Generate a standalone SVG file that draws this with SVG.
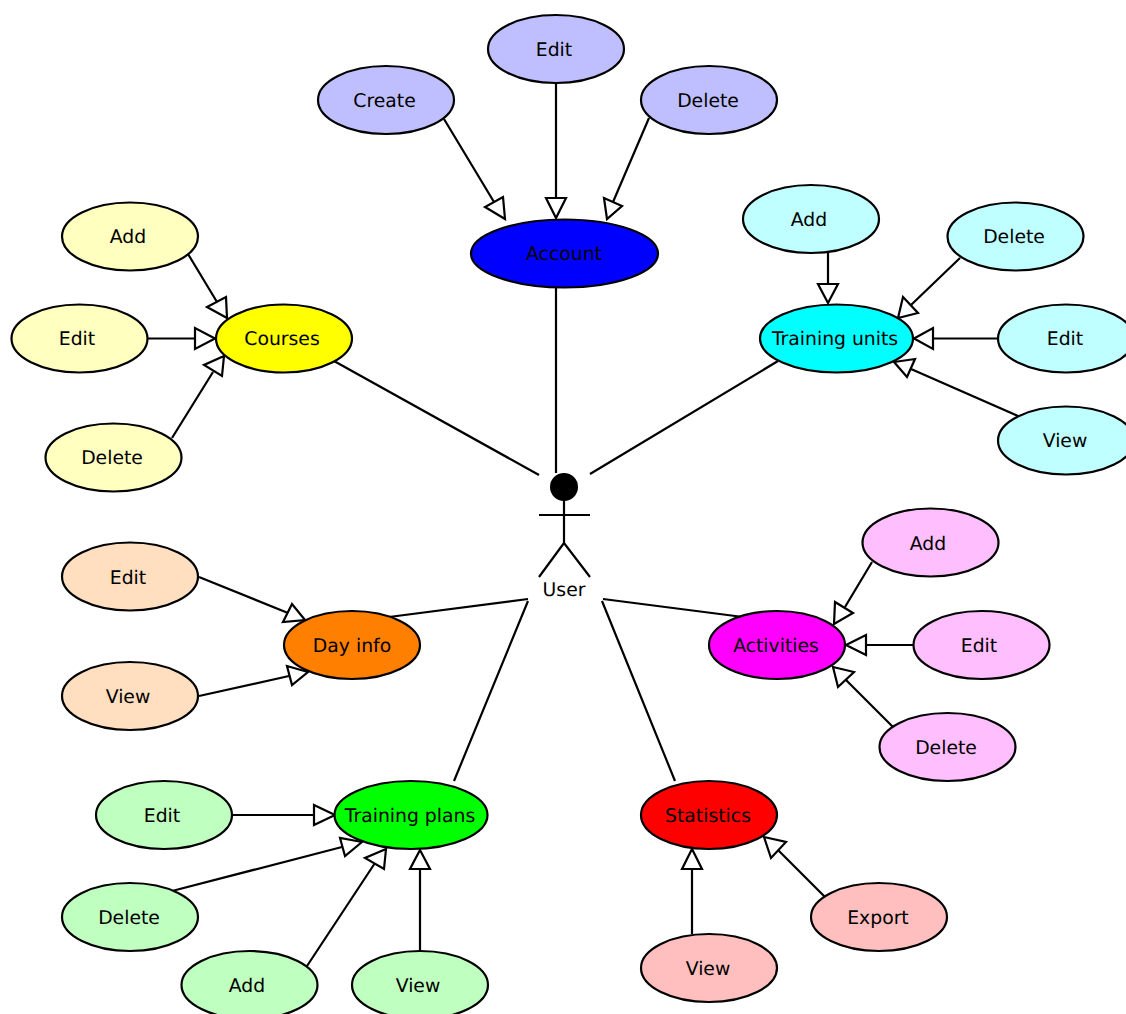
<svg xmlns="http://www.w3.org/2000/svg" width="1126" height="1014" viewBox="0 0 1126 1014">
<style>
text{font-family:"DejaVu Sans",sans-serif;font-size:18.8px;fill:#000;text-anchor:middle;text-rendering:geometricPrecision}
ellipse{stroke:#000;stroke-width:2.2}
.l{stroke:#000;stroke-width:2.2;fill:none}
.h{stroke:#000;stroke-width:2.2;fill:#fff}
.pb{fill:#bfbfff}.py{fill:#ffffbf}.pc{fill:#bfffff}.po{fill:#ffdfbf}.pm{fill:#ffbfff}.pg{fill:#bfffbf}.pr{fill:#ffbfbf}
</style>
<rect width="1126" height="1014" fill="#fff"/>
<g id="connectors">
<path class="l" d="M556 288V473M334 361L539 475M778 361L590 474M528 599L389 617M603 599L743 617M528 601L454 781M602 601L675 781"/>
<path class="l" d="M444 119L494 202M556 83V198M649 118L613 202"/>
<polygon class="h" points="505,219 485,207 503,197"/><polygon class="h" points="556,218 546,198 566,198"/><polygon class="h" points="607,219 604,198 622,206"/>
<path class="l" d="M188 254L217 302M148 338.500H195M172 438L213 372"/>
<polygon class="h" points="227,318 207,307 226,297"/><polygon class="h" points="215,338.500 195,328 195,349"/><polygon class="h" points="224,356 204,365 222,376"/>
<path class="l" d="M828 253V284M960 258L911 305M998 338.500H933M1018 416L911 369"/>
<polygon class="h" points="828,303 818,284 838,284"/><polygon class="h" points="898,318 903,297 918,313"/><polygon class="h" points="914,338.500 933,328 933,349"/><polygon class="h" points="894,362 915,359 907,377"/>
<path class="l" d="M199 577L288 613M199 696L289 676"/>
<polygon class="h" points="305,620 292,604 283,622"/><polygon class="h" points="308,672 287,666 292,685"/>
<path class="l" d="M872 562L845 607M914 645H866M893 727L846 680"/>
<polygon class="h" points="834,624 835,602 853,613"/><polygon class="h" points="846,645 866,635 866,655"/><polygon class="h" points="833,667 854,672 838,687"/>
<path class="l" d="M233 815H314M172 891L342 847M307 966L375 863M420 951V869"/>
<polygon class="h" points="335,815 314,805 314,825"/><polygon class="h" points="362,842 340,838 345,856"/><polygon class="h" points="386,849 365,858 384,869"/><polygon class="h" points="420,850 410,869 430,869"/>
<path class="l" d="M692 934V869M825 897L778 850"/>
<polygon class="h" points="692,849 682,869 702,869"/><polygon class="h" points="764,837 786,842 771,858"/>
</g>
<g id="actor"><circle cx="564" cy="487" r="13" fill="#000" stroke="#000" stroke-width="2"/><path class="l" d="M564 500V543M539 515H590M564 543L539 577M564 543L590 577"/><text x="564" y="596">User</text></g>
<g id="account"><ellipse cx="564.500" cy="253.500" rx="93.500" ry="34" fill="#00f"/><text x="564" y="260">Account</text></g>
<g id="acc-create"><ellipse class="pb" cx="386" cy="100" rx="68" ry="34"/><text x="384.500" y="107">Create</text></g>
<g id="acc-edit"><ellipse class="pb" cx="556" cy="49" rx="68" ry="34"/><text x="554" y="56">Edit</text></g>
<g id="acc-delete"><ellipse class="pb" cx="709" cy="100" rx="68" ry="34"/><text x="708" y="107">Delete</text></g>
<g id="courses"><ellipse cx="284" cy="338.500" rx="68" ry="34" fill="#ff0"/><text x="282" y="345">Courses</text></g>
<g id="c-add"><ellipse class="py" cx="130" cy="236.500" rx="68" ry="34"/><text x="128" y="243">Add</text></g>
<g id="c-edit"><ellipse class="py" cx="79.500" cy="338.500" rx="68" ry="34"/><text x="77" y="345">Edit</text></g>
<g id="c-delete"><ellipse class="py" cx="113.500" cy="457.500" rx="68" ry="34"/><text x="112" y="464">Delete</text></g>
<g id="training-units"><ellipse cx="836.500" cy="338.500" rx="76.500" ry="34" fill="#0ff"/><text x="835" y="345">Training units</text></g>
<g id="tu-add"><ellipse class="pc" cx="811" cy="219" rx="68" ry="34"/><text x="809" y="226">Add</text></g>
<g id="tu-delete"><ellipse class="pc" cx="1015.500" cy="236.500" rx="68" ry="34"/><text x="1014" y="243">Delete</text></g>
<g id="tu-edit"><ellipse class="pc" cx="1066" cy="338.500" rx="68" ry="34"/><text x="1065" y="345">Edit</text></g>
<g id="tu-view"><ellipse class="pc" cx="1066" cy="440.500" rx="68" ry="34"/><text x="1065" y="447">View</text></g>
<g id="day-info"><ellipse cx="352" cy="645" rx="68" ry="34" fill="#ff7f00"/><text x="352" y="652">Day info</text></g>
<g id="d-edit"><ellipse class="po" cx="130" cy="576.500" rx="68" ry="34"/><text x="128" y="584">Edit</text></g>
<g id="d-view"><ellipse class="po" cx="130" cy="696" rx="68" ry="34"/><text x="128" y="703">View</text></g>
<g id="activities"><ellipse cx="777" cy="645" rx="68" ry="34" fill="#f0f"/><text x="776" y="652">Activities</text></g>
<g id="a-add"><ellipse class="pm" cx="930.500" cy="542.500" rx="68" ry="34"/><text x="928" y="550">Add</text></g>
<g id="a-edit"><ellipse class="pm" cx="981.500" cy="645" rx="68" ry="34"/><text x="979" y="652">Edit</text></g>
<g id="a-delete"><ellipse class="pm" cx="947.500" cy="747" rx="68" ry="34"/><text x="946" y="754">Delete</text></g>
<g id="training-plans"><ellipse cx="411" cy="815" rx="76.500" ry="34" fill="#0f0"/><text x="410" y="822">Training plans</text></g>
<g id="tp-edit"><ellipse class="pg" cx="164" cy="815" rx="68" ry="34"/><text x="162" y="822">Edit</text></g>
<g id="tp-delete"><ellipse class="pg" cx="130" cy="917" rx="68" ry="34"/><text x="129" y="924">Delete</text></g>
<g id="tp-add"><ellipse class="pg" cx="249.500" cy="985" rx="68" ry="34"/><text x="247" y="992">Add</text></g>
<g id="tp-view"><ellipse class="pg" cx="420" cy="985" rx="68" ry="34"/><text x="418" y="992">View</text></g>
<g id="statistics"><ellipse cx="709" cy="815" rx="68" ry="34" fill="#f00"/><text x="708" y="822">Statistics</text></g>
<g id="s-view"><ellipse class="pr" cx="709" cy="968" rx="68" ry="34"/><text x="708" y="975">View</text></g>
<g id="s-export"><ellipse class="pr" cx="879" cy="917" rx="68" ry="34"/><text x="878" y="924">Export</text></g>
</svg>
